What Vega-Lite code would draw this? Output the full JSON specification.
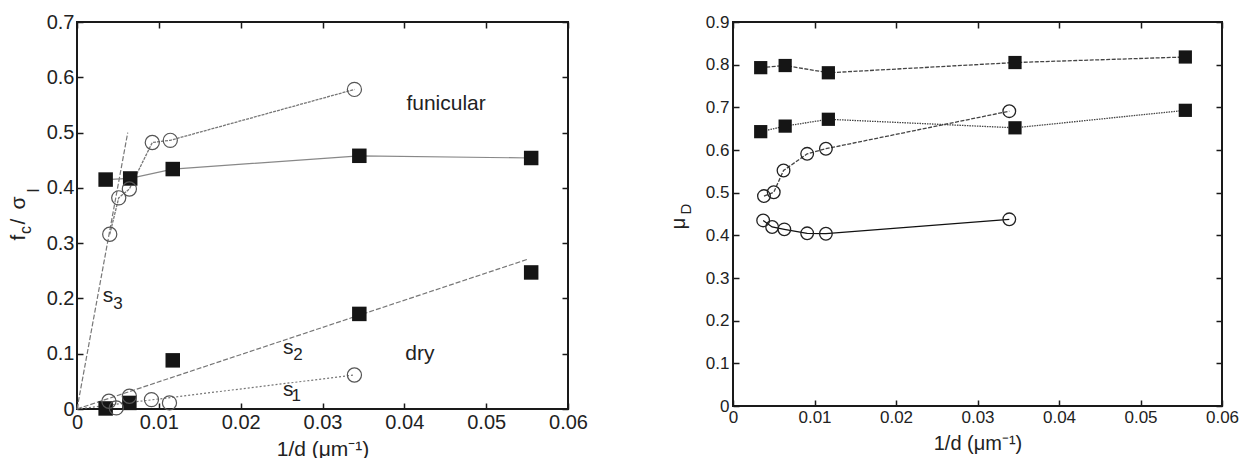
{
  "$schema": "https://vega.github.io/schema/vega-lite/v6.json",
  "padding": {"left": 6, "top": 11, "right": 0, "bottom": 0},
  "background": "white",
  "spacing": 165,
  "bounds": "flush",
  "config": {
    "view": {"stroke": "#1a1a1a", "strokeWidth": 2},
    "axis": {"domain": false, "grid": false, "tickColor": "#1a1a1a", "tickWidth": 1.5, "tickSize": -6, "labelFont": "Liberation Sans", "titleFont": "Liberation Sans", "labelColor": "#222", "titleColor": "#222", "titleFontWeight": "normal", "labelFlush": false, "labelOverlap": false, "format": "~g"}
  },
  "datasets": {
    "left_pts": [
      {"s": "fun_sq", "shape": "sq", "x": 0.0035, "y": 0.415},
      {"s": "fun_sq", "shape": "sq", "x": 0.0065, "y": 0.417},
      {"s": "fun_sq", "shape": "sq", "x": 0.0117, "y": 0.434},
      {"s": "fun_sq", "shape": "sq", "x": 0.0345, "y": 0.458},
      {"s": "fun_sq", "shape": "sq", "x": 0.0555, "y": 0.454},
      {"s": "fun_circ", "shape": "ci", "x": 0.0040, "y": 0.316},
      {"s": "fun_circ", "shape": "ci", "x": 0.0051, "y": 0.382},
      {"s": "fun_circ", "shape": "ci", "x": 0.0064, "y": 0.398},
      {"s": "fun_circ", "shape": "ci", "x": 0.0092, "y": 0.482},
      {"s": "fun_circ", "shape": "ci", "x": 0.0114, "y": 0.486},
      {"s": "fun_circ", "shape": "ci", "x": 0.0339, "y": 0.578},
      {"s": "dry_sq", "shape": "sq", "x": 0.0035, "y": 0.001},
      {"s": "dry_sq", "shape": "sq", "x": 0.0064, "y": 0.011},
      {"s": "dry_sq", "shape": "sq", "x": 0.0117, "y": 0.088},
      {"s": "dry_sq", "shape": "sq", "x": 0.0345, "y": 0.172},
      {"s": "dry_sq", "shape": "sq", "x": 0.0555, "y": 0.247},
      {"s": "dry_circ", "shape": "ci", "x": 0.0039, "y": 0.014},
      {"s": "dry_circ", "shape": "ci", "x": 0.0048, "y": 0.002},
      {"s": "dry_circ", "shape": "ci", "x": 0.0064, "y": 0.023},
      {"s": "dry_circ", "shape": "ci", "x": 0.0091, "y": 0.017},
      {"s": "dry_circ", "shape": "ci", "x": 0.0113, "y": 0.011},
      {"s": "dry_circ", "shape": "ci", "x": 0.0339, "y": 0.0615}
    ],
    "left_fits": [
      {"fit": "s1", "x": 0, "y": 0},
      {"fit": "s1", "x": 0.0339, "y": 0.0615},
      {"fit": "s2", "x": 0, "y": 0},
      {"fit": "s2", "x": 0.0551, "y": 0.271},
      {"fit": "s3", "x": 0, "y": 0},
      {"fit": "s3", "x": 0.0062, "y": 0.5}
    ],
    "left_labels": [
      {"role": "main", "t": "funicular", "x": 0.0451, "y": 0.5516},
      {"role": "main", "t": "dry", "x": 0.0419, "y": 0.0995},
      {"role": "main", "t": "s", "x": 0.0038, "y": 0.2044},
      {"role": "sub", "t": "3", "x": 0.0050, "y": 0.190},
      {"role": "main", "t": "s", "x": 0.0258, "y": 0.110},
      {"role": "sub", "t": "2", "x": 0.0270, "y": 0.0977},
      {"role": "main", "t": "s", "x": 0.0258, "y": 0.0344},
      {"role": "sub", "t": "1", "x": 0.0268, "y": 0.0235}
    ],
    "left_title": [
      {"role": "main", "t": "f", "x": -0.0071, "y": 0.310},
      {"role": "sub", "t": "c", "x": -0.0062, "y": 0.3238},
      {"role": "main", "t": "/", "x": -0.0071, "y": 0.339},
      {"role": "main", "t": "σ", "x": -0.0071, "y": 0.3725},
      {"role": "sub", "t": "l", "x": -0.0052, "y": 0.3955}
    ],
    "right_pts": [
      {"s": "sq_top", "shape": "sq", "x": 0.0034, "y": 0.793},
      {"s": "sq_top", "shape": "sq", "x": 0.0064, "y": 0.798},
      {"s": "sq_top", "shape": "sq", "x": 0.0117, "y": 0.781},
      {"s": "sq_top", "shape": "sq", "x": 0.0346, "y": 0.805},
      {"s": "sq_top", "shape": "sq", "x": 0.0555, "y": 0.818},
      {"s": "sq_low", "shape": "sq", "x": 0.0034, "y": 0.643},
      {"s": "sq_low", "shape": "sq", "x": 0.0064, "y": 0.656},
      {"s": "sq_low", "shape": "sq", "x": 0.0117, "y": 0.672},
      {"s": "sq_low", "shape": "sq", "x": 0.0346, "y": 0.652},
      {"s": "sq_low", "shape": "sq", "x": 0.0555, "y": 0.693},
      {"s": "ci_up", "shape": "ci", "x": 0.0038, "y": 0.492},
      {"s": "ci_up", "shape": "ci", "x": 0.0050, "y": 0.501},
      {"s": "ci_up", "shape": "ci", "x": 0.0062, "y": 0.552},
      {"s": "ci_up", "shape": "ci", "x": 0.0091, "y": 0.591},
      {"s": "ci_up", "shape": "ci", "x": 0.0114, "y": 0.603},
      {"s": "ci_up", "shape": "ci", "x": 0.0339, "y": 0.691},
      {"s": "ci_low", "shape": "ci", "x": 0.0037, "y": 0.435},
      {"s": "ci_low", "shape": "ci", "x": 0.0048, "y": 0.4195},
      {"s": "ci_low", "shape": "ci", "x": 0.0063, "y": 0.414},
      {"s": "ci_low", "shape": "ci", "x": 0.0091, "y": 0.4047},
      {"s": "ci_low", "shape": "ci", "x": 0.0114, "y": 0.4038},
      {"s": "ci_low", "shape": "ci", "x": 0.0339, "y": 0.4375}
    ],
    "right_title": [
      {"role": "main", "t": "μ", "x": -0.0066, "y": 0.428},
      {"role": "sub", "t": "D", "x": -0.0058, "y": 0.4617}
    ]
  },
  "hconcat": [
    {
      "width": 491,
      "height": 387,
      "resolve": {"axis": {"x": "independent", "y": "independent"}},
      "layer": [
        {
          "data": {"name": "left_fits"},
          "transform": [{"filter": "datum.fit == 's1'"}],
          "mark": {"type": "line", "strokeWidth": 1.2, "color": "#777", "strokeDash": [2, 2]},
          "encoding": {
            "x": {"field": "x", "type": "quantitative", "scale": {"domain": [0, 0.06], "nice": false, "zero": false},
              "axis": {"orient": "bottom", "values": [0, 0.01, 0.02, 0.03, 0.04, 0.05, 0.06], "labelFontSize": 20, "labelPadding": 9, "title": "1/d (μm⁻¹)", "titleFontSize": 21, "titlePadding": 6}},
            "y": {"field": "y", "type": "quantitative", "scale": {"domain": [0, 0.7], "nice": false, "zero": false},
              "axis": {"orient": "left", "values": [0, 0.1, 0.2, 0.3, 0.4, 0.5, 0.6, 0.7], "labelFontSize": 20, "labelPadding": 9, "title": null}}
          }
        },
        {
          "data": {"name": "left_fits"},
          "transform": [{"filter": "datum.fit != 's1'"}],
          "mark": {"type": "line", "strokeWidth": 1.2, "color": "#777", "strokeDash": [5, 2]},
          "encoding": {
            "x": {"field": "x", "type": "quantitative", "axis": null},
            "y": {"field": "y", "type": "quantitative", "axis": null},
            "detail": {"field": "fit"}
          }
        },
        {
          "data": {"name": "left_pts"},
          "transform": [{"filter": "datum.s == 'fun_sq'"}],
          "mark": {"type": "line", "strokeWidth": 1.2, "color": "#888"},
          "encoding": {
            "x": {"field": "x", "type": "quantitative", "axis": null},
            "y": {"field": "y", "type": "quantitative", "axis": null}
          }
        },
        {
          "data": {"name": "left_pts"},
          "transform": [{"filter": "datum.s == 'fun_circ'"}],
          "mark": {"type": "line", "strokeWidth": 1.3, "color": "#777", "strokeDash": [3, 1]},
          "encoding": {
            "x": {"field": "x", "type": "quantitative", "axis": null},
            "y": {"field": "y", "type": "quantitative", "axis": null}
          }
        },
        {
          "data": {"name": "left_pts"},
          "transform": [{"filter": "datum.shape == 'sq'"}],
          "mark": {"type": "point", "shape": "square", "filled": true, "color": "#151515", "opacity": 1, "size": 210},
          "encoding": {
            "x": {"field": "x", "type": "quantitative", "axis": null},
            "y": {"field": "y", "type": "quantitative", "axis": null}
          }
        },
        {
          "data": {"name": "left_pts"},
          "transform": [{"filter": "datum.shape == 'ci'"}],
          "mark": {"type": "point", "shape": "circle", "filled": false, "stroke": "#555", "strokeWidth": 1.2, "opacity": 1, "size": 200},
          "encoding": {
            "x": {"field": "x", "type": "quantitative", "axis": null},
            "y": {"field": "y", "type": "quantitative", "axis": null}
          }
        },
        {
          "data": {"name": "left_labels"},
          "transform": [{"filter": "datum.role == 'main'"}],
          "mark": {"type": "text", "font": "Liberation Sans", "fontSize": 21, "color": "#222", "align": "center", "baseline": "middle"},
          "encoding": {
            "x": {"field": "x", "type": "quantitative", "axis": null},
            "y": {"field": "y", "type": "quantitative", "axis": null},
            "text": {"field": "t"}
          }
        },
        {
          "data": {"name": "left_labels"},
          "transform": [{"filter": "datum.role == 'sub'"}],
          "mark": {"type": "text", "font": "Liberation Sans", "fontSize": 17, "color": "#222", "align": "center", "baseline": "middle"},
          "encoding": {
            "x": {"field": "x", "type": "quantitative", "axis": null},
            "y": {"field": "y", "type": "quantitative", "axis": null},
            "text": {"field": "t"}
          }
        },
        {
          "data": {"name": "left_title"},
          "transform": [{"filter": "datum.role == 'main'"}],
          "mark": {"type": "text", "font": "Liberation Sans", "fontSize": 21, "color": "#222", "align": "center", "baseline": "middle", "angle": -90},
          "encoding": {
            "x": {"field": "x", "type": "quantitative", "axis": null},
            "y": {"field": "y", "type": "quantitative", "axis": null},
            "text": {"field": "t"}
          }
        },
        {
          "data": {"name": "left_title"},
          "transform": [{"filter": "datum.role == 'sub'"}],
          "mark": {"type": "text", "font": "Liberation Sans", "fontSize": 16, "color": "#222", "align": "center", "baseline": "middle", "angle": -90},
          "encoding": {
            "x": {"field": "x", "type": "quantitative", "axis": null},
            "y": {"field": "y", "type": "quantitative", "axis": null},
            "text": {"field": "t"}
          }
        },
        {
          "data": {"name": "left_fits"},
          "mark": {"type": "point", "opacity": 0},
          "encoding": {
            "x": {"field": "x", "type": "quantitative", "axis": {"orient": "top", "values": [0, 0.01, 0.02, 0.03, 0.04, 0.05, 0.06], "labels": false, "title": null}},
            "y": {"field": "y", "type": "quantitative", "axis": {"orient": "right", "values": [0, 0.1, 0.2, 0.3, 0.4, 0.5, 0.6, 0.7], "labels": false, "title": null}}
          }
        }
      ]
    },
    {
      "width": 489,
      "height": 384,
      "resolve": {"axis": {"x": "independent", "y": "independent"}},
      "layer": [
        {
          "data": {"name": "right_pts"},
          "transform": [{"filter": "datum.s == 'ci_low'"}],
          "mark": {"type": "line", "strokeWidth": 1.3, "color": "#111"},
          "encoding": {
            "x": {"field": "x", "type": "quantitative", "scale": {"domain": [0, 0.06], "nice": false, "zero": false},
              "axis": {"orient": "bottom", "values": [0, 0.01, 0.02, 0.03, 0.04, 0.05, 0.06], "labelFontSize": 17, "labelPadding": 9, "title": "1/d (μm⁻¹)", "titleFontSize": 20, "titlePadding": 8}},
            "y": {"field": "y", "type": "quantitative", "scale": {"domain": [0, 0.9], "nice": false, "zero": false},
              "axis": {"orient": "left", "values": [0, 0.1, 0.2, 0.3, 0.4, 0.5, 0.6, 0.7, 0.8, 0.9], "labelFontSize": 17, "labelPadding": 10, "title": null}}
          }
        },
        {
          "data": {"name": "right_pts"},
          "transform": [{"filter": "datum.s == 'sq_top' || datum.s == 'ci_up'"}],
          "mark": {"type": "line", "strokeWidth": 1.3, "color": "#444", "strokeDash": [4, 1.5]},
          "encoding": {
            "x": {"field": "x", "type": "quantitative", "axis": null},
            "y": {"field": "y", "type": "quantitative", "axis": null},
            "detail": {"field": "s"}
          }
        },
        {
          "data": {"name": "right_pts"},
          "transform": [{"filter": "datum.s == 'sq_low'"}],
          "mark": {"type": "line", "strokeWidth": 1.3, "color": "#444", "strokeDash": [1.5, 1]},
          "encoding": {
            "x": {"field": "x", "type": "quantitative", "axis": null},
            "y": {"field": "y", "type": "quantitative", "axis": null}
          }
        },
        {
          "data": {"name": "right_pts"},
          "transform": [{"filter": "datum.shape == 'sq'"}],
          "mark": {"type": "point", "shape": "square", "filled": true, "color": "#151515", "opacity": 1, "size": 175},
          "encoding": {
            "x": {"field": "x", "type": "quantitative", "axis": null},
            "y": {"field": "y", "type": "quantitative", "axis": null}
          }
        },
        {
          "data": {"name": "right_pts"},
          "transform": [{"filter": "datum.shape == 'ci'"}],
          "mark": {"type": "point", "shape": "circle", "filled": false, "stroke": "#222", "strokeWidth": 1.3, "opacity": 1, "size": 160},
          "encoding": {
            "x": {"field": "x", "type": "quantitative", "axis": null},
            "y": {"field": "y", "type": "quantitative", "axis": null}
          }
        },
        {
          "data": {"name": "right_title"},
          "transform": [{"filter": "datum.role == 'main'"}],
          "mark": {"type": "text", "font": "Liberation Sans", "fontSize": 20, "color": "#222", "align": "center", "baseline": "middle", "angle": -90},
          "encoding": {
            "x": {"field": "x", "type": "quantitative", "axis": null},
            "y": {"field": "y", "type": "quantitative", "axis": null},
            "text": {"field": "t"}
          }
        },
        {
          "data": {"name": "right_title"},
          "transform": [{"filter": "datum.role == 'sub'"}],
          "mark": {"type": "text", "font": "Liberation Sans", "fontSize": 15, "color": "#222", "align": "center", "baseline": "middle", "angle": -90},
          "encoding": {
            "x": {"field": "x", "type": "quantitative", "axis": null},
            "y": {"field": "y", "type": "quantitative", "axis": null},
            "text": {"field": "t"}
          }
        },
        {
          "data": {"name": "right_pts"},
          "mark": {"type": "point", "opacity": 0},
          "encoding": {
            "x": {"field": "x", "type": "quantitative", "axis": {"orient": "top", "values": [0, 0.01, 0.02, 0.03, 0.04, 0.05, 0.06], "labels": false, "title": null}},
            "y": {"field": "y", "type": "quantitative", "axis": {"orient": "right", "values": [0, 0.1, 0.2, 0.3, 0.4, 0.5, 0.6, 0.7, 0.8, 0.9], "labels": false, "title": null}}
          }
        }
      ]
    }
  ]
}
